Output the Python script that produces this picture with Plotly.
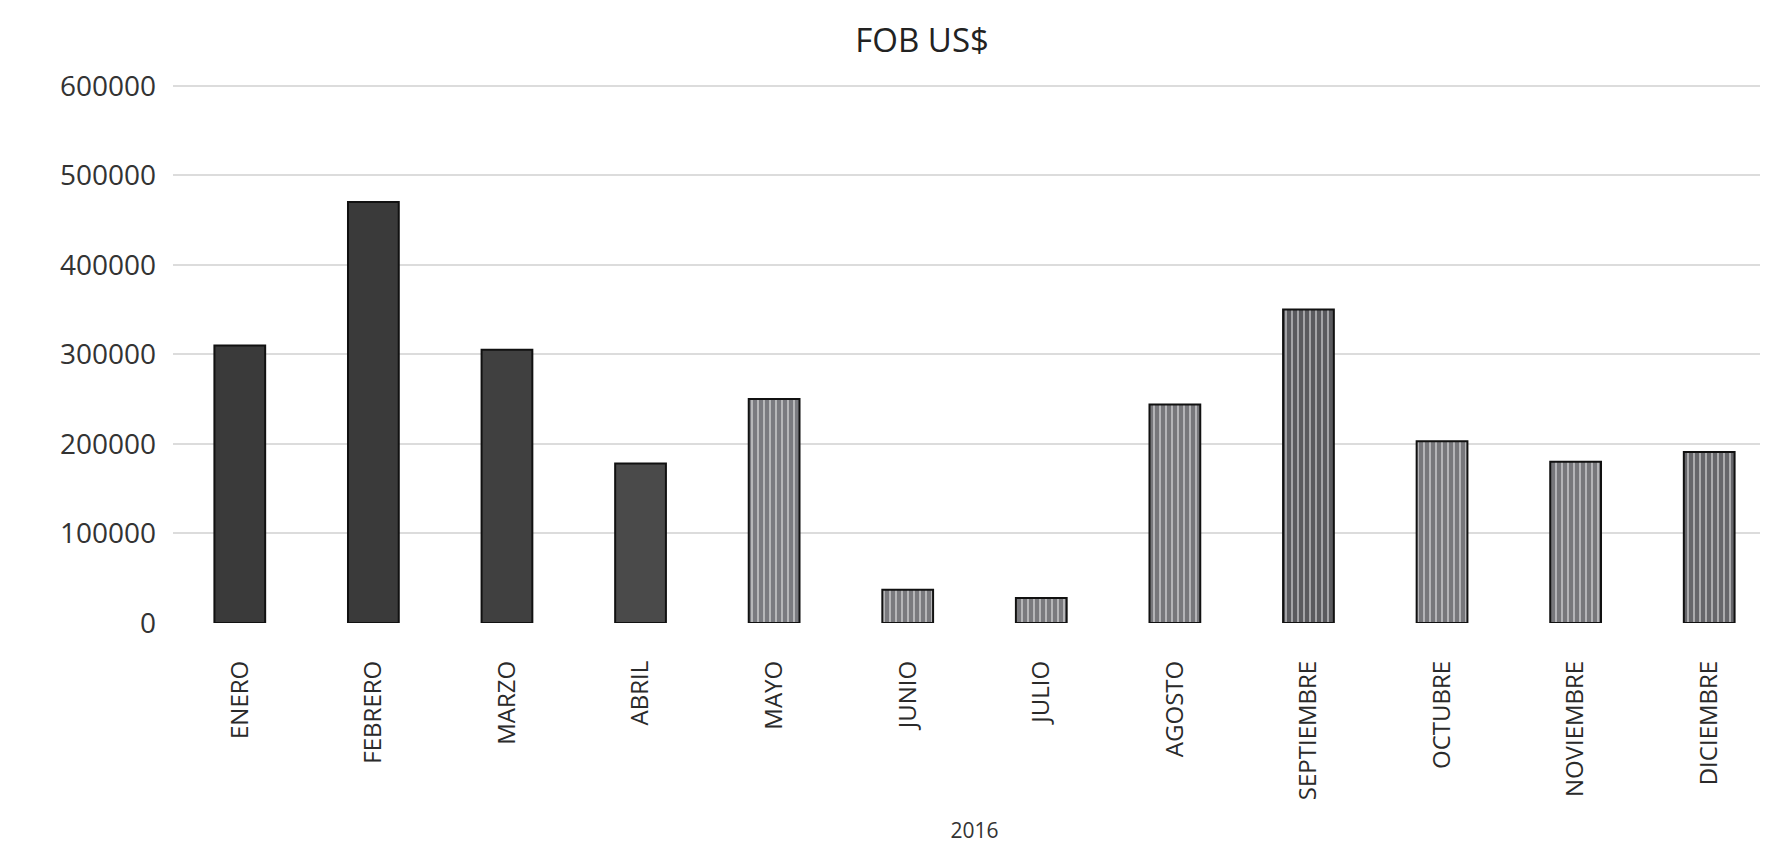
import plotly.graph_objects as go

# FOB value per month, 2016
months = ["ENERO", "FEBRERO", "MARZO", "ABRIL", "MAYO", "JUNIO",
          "JULIO", "AGOSTO", "SEPTIEMBRE", "OCTUBRE", "NOVIEMBRE", "DICIEMBRE"]
fob_usd = [310000, 470000, 305000, 178000, 250000, 37000,
           28000, 244000, 350000, 203000, 180000, 191000]
y_ticks = [0, 100000, 200000, 300000, 400000, 500000, 600000]

# scan look: first bars come out solid dark, the rest grey with vertical streaks
bar_colors = ["#3a3a3a", "#3a3a3a", "#404040", "#4a4a4a", "#7a7b80", "#7a7a7e",
              "#7a7a7e", "#77777b", "#5a5a5e", "#77777b", "#77777b", "#66666a"]
bar_shapes = ["", "", "", "", "|", "|", "|", "|", "|", "|", "|", "|"]

fig = go.Figure()

fig.add_trace(go.Bar(
    x=months,
    y=fob_usd,
    marker=dict(
        color=bar_colors,
        line=dict(color="#111111", width=2),
        pattern=dict(shape=bar_shapes, fgcolor="#9c9ca0", size=6, solidity=0.3),
    ),
    width=0.38,
    hovertemplate="%{x}: %{y:,}<extra></extra>",
))

fig.update_layout(
    title=dict(text="FOB US$", x=0.517, xanchor="center", y=0.962, yanchor="middle",
               font=dict(family="Open Sans", size=33, color="#222222")),
    width=1768,
    height=854,
    margin=dict(l=165, r=0, t=75, b=239),
    paper_bgcolor="#ffffff",
    plot_bgcolor="#ffffff",
    showlegend=False,
    font=dict(family="Open Sans", color="#333333"),
    xaxis=dict(
        title=dict(text="2016", font=dict(size=21, color="#333333"), standoff=24),
        tickangle=-90,
        tickfont=dict(size=24, color="#2a2a2a"),
        ticklabelstandoff=32,
        showgrid=False,
        showline=False,
        range=[-0.5, 11.5],
    ),
    yaxis=dict(
        range=[0, 603000],
        tickvals=y_ticks,
        ticktext=[str(v) for v in y_ticks],
        tickfont=dict(size=28, color="#333333"),
        ticklabelstandoff=16,
        showgrid=True,
        gridcolor="#dcdcdc",
        gridwidth=1.5,
        zeroline=False,
        showline=False,
    ),
)

fig.write_html("out.html")
